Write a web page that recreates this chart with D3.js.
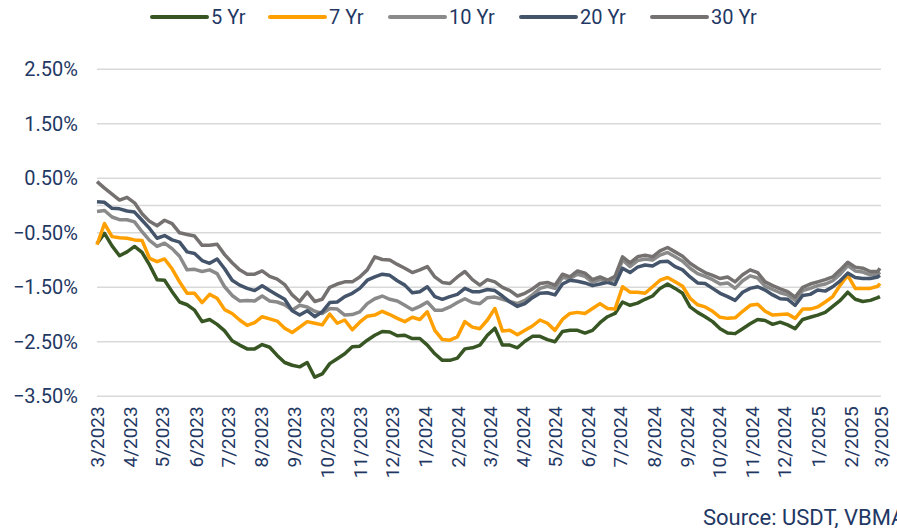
<!DOCTYPE html>
<html><head><meta charset="utf-8">
<script src="https://cdn.jsdelivr.net/npm/d3@7/dist/d3.min.js"></script>
<style>body{margin:0;background:#fff}svg{display:block}</style>
</head><body><svg id="c" width="897" height="528"></svg>
<script>
const dates = [
"2023-03-01","2023-03-08","2023-03-15","2023-03-22","2023-03-29","2023-04-05","2023-04-12","2023-04-19","2023-04-26",
"2023-05-03","2023-05-10","2023-05-17","2023-05-24","2023-05-31","2023-06-07","2023-06-14","2023-06-21","2023-06-28",
"2023-07-05","2023-07-12","2023-07-19","2023-07-26","2023-08-02","2023-08-09","2023-08-16","2023-08-23","2023-08-30",
"2023-09-06","2023-09-13","2023-09-20","2023-09-27","2023-10-04","2023-10-11","2023-10-18","2023-10-25",
"2023-11-01","2023-11-08","2023-11-15","2023-11-22","2023-11-29","2023-12-06","2023-12-13","2023-12-20","2023-12-27",
"2024-01-03","2024-01-10","2024-01-17","2024-01-24","2024-01-31","2024-02-07","2024-02-14","2024-02-21","2024-02-28",
"2024-03-06","2024-03-13","2024-03-20","2024-03-27","2024-04-03","2024-04-10","2024-04-17","2024-04-24",
"2024-05-01","2024-05-08","2024-05-15","2024-05-22","2024-05-29","2024-06-05","2024-06-12","2024-06-19","2024-06-26",
"2024-07-03","2024-07-10","2024-07-17","2024-07-24","2024-07-31","2024-08-07","2024-08-14","2024-08-21","2024-08-28",
"2024-09-04","2024-09-11","2024-09-18","2024-09-25","2024-10-02","2024-10-09","2024-10-16","2024-10-23","2024-10-30",
"2024-11-06","2024-11-13","2024-11-20","2024-11-27","2024-12-04","2024-12-11","2024-12-18","2024-12-25",
"2025-01-01","2025-01-08","2025-01-15","2025-01-22","2025-01-29","2025-02-05","2025-02-12","2025-02-19","2025-02-26","2025-02-28"];

const yr5 = [
-0.70,-0.51,-0.74,-0.92,-0.85,-0.75,-0.86,-1.09,-1.36,-1.37,-1.58,-1.77,-1.82,-1.92,-2.13,-2.09,-2.18,-2.30,-2.48,-2.56,-2.63,-2.63,-2.55,-2.60,-2.75,-2.88,-2.93,
-2.96,-2.88,-3.15,-3.09,-2.90,-2.81,-2.72,-2.59,-2.58,-2.47,-2.38,-2.31,-2.32,-2.39,-2.38,-2.44,-2.44,-2.56,-2.72,-2.84,-2.84,-2.80,-2.63,-2.61,-2.56,-2.38,-2.25,
-2.56,-2.56,-2.61,-2.49,-2.40,-2.40,-2.46,-2.50,-2.31,-2.29,-2.29,-2.34,-2.29,-2.15,-2.04,-1.98,-1.77,-1.83,-1.79,-1.72,-1.66,-1.52,-1.44,-1.52,-1.61,-1.86,
-1.96,-2.04,-2.13,-2.26,-2.34,-2.35,-2.26,-2.17,-2.09,-2.11,-2.18,-2.14,-2.19,-2.26,-2.09,-2.05,-2.01,-1.96,-1.85,-1.74,-1.59,-1.72,-1.76,-1.74,-1.69,-1.67];
const yr7 = [
-0.72,-0.33,-0.57,-0.59,-0.60,-0.63,-0.64,-0.97,-1.03,-0.98,-1.16,-1.40,-1.61,-1.61,-1.78,-1.63,-1.70,-1.91,-1.98,-2.10,-2.20,-2.15,-2.04,-2.08,-2.12,-2.25,-2.33,
-2.23,-2.13,-2.16,-2.19,-1.99,-2.16,-2.10,-2.28,-2.14,-2.03,-2.01,-1.94,-2.00,-2.07,-2.13,-2.05,-2.09,-1.95,-2.29,-2.46,-2.47,-2.41,-2.13,-2.23,-2.26,-2.10,-1.89,
-2.30,-2.29,-2.37,-2.29,-2.21,-2.10,-2.16,-2.29,-2.09,-1.98,-1.96,-1.98,-1.89,-1.80,-1.89,-1.90,-1.49,-1.59,-1.59,-1.61,-1.49,-1.37,-1.32,-1.40,-1.48,-1.70,
-1.82,-1.86,-1.94,-2.05,-2.07,-2.06,-1.94,-1.83,-1.81,-1.94,-2.01,-2.00,-1.99,-2.07,-1.90,-1.90,-1.86,-1.77,-1.67,-1.46,-1.28,-1.52,-1.52,-1.52,-1.48,-1.43];
const yr10 = [
-0.11,-0.09,-0.21,-0.26,-0.26,-0.30,-0.48,-0.64,-0.75,-0.69,-0.79,-0.93,-1.18,-1.17,-1.21,-1.18,-1.25,-1.49,-1.65,-1.75,-1.74,-1.75,-1.66,-1.75,-1.77,-1.82,-1.92,
-1.83,-1.86,-1.94,-1.98,-1.89,-1.90,-2.01,-2.00,-1.95,-1.80,-1.71,-1.66,-1.72,-1.75,-1.83,-1.91,-1.85,-1.77,-1.92,-1.92,-1.86,-1.78,-1.71,-1.78,-1.80,-1.69,-1.68,
-1.72,-1.76,-1.80,-1.74,-1.64,-1.52,-1.48,-1.52,-1.32,-1.34,-1.26,-1.30,-1.41,-1.36,-1.40,-1.36,-1.00,-1.12,-1.01,-0.98,-1.00,-0.91,-0.86,-0.94,-1.02,-1.15,
-1.25,-1.30,-1.36,-1.44,-1.42,-1.52,-1.38,-1.29,-1.33,-1.48,-1.54,-1.60,-1.64,-1.74,-1.56,-1.52,-1.47,-1.44,-1.38,-1.26,-1.10,-1.20,-1.22,-1.27,-1.26,-1.22];
const yr20 = [
0.07,0.06,-0.05,-0.06,-0.10,-0.12,-0.27,-0.42,-0.60,-0.55,-0.63,-0.67,-0.85,-0.88,-1.01,-1.06,-0.98,-1.16,-1.37,-1.46,-1.52,-1.56,-1.47,-1.56,-1.64,-1.72,-1.93,
-2.01,-1.93,-2.04,-1.95,-1.78,-1.77,-1.67,-1.61,-1.52,-1.37,-1.31,-1.26,-1.28,-1.38,-1.46,-1.60,-1.58,-1.49,-1.67,-1.72,-1.67,-1.63,-1.52,-1.58,-1.58,-1.54,-1.56,
-1.66,-1.77,-1.85,-1.80,-1.69,-1.61,-1.60,-1.64,-1.44,-1.37,-1.39,-1.42,-1.47,-1.44,-1.41,-1.45,-1.15,-1.23,-1.13,-1.09,-1.11,-1.03,-1.02,-1.12,-1.18,-1.31,
-1.42,-1.43,-1.52,-1.61,-1.67,-1.74,-1.59,-1.52,-1.49,-1.55,-1.64,-1.71,-1.72,-1.83,-1.65,-1.63,-1.55,-1.57,-1.49,-1.38,-1.24,-1.32,-1.34,-1.34,-1.31,-1.28];
const yr30 = [
0.44,0.32,0.21,0.10,0.15,0.05,-0.15,-0.29,-0.37,-0.27,-0.33,-0.50,-0.53,-0.56,-0.73,-0.73,-0.71,-0.90,-1.05,-1.18,-1.26,-1.26,-1.20,-1.30,-1.35,-1.45,-1.64,
-1.76,-1.59,-1.76,-1.72,-1.50,-1.44,-1.40,-1.40,-1.31,-1.18,-0.94,-0.99,-1.00,-1.08,-1.15,-1.23,-1.18,-1.12,-1.31,-1.41,-1.43,-1.31,-1.21,-1.36,-1.46,-1.36,-1.40,
-1.50,-1.56,-1.66,-1.61,-1.53,-1.43,-1.41,-1.46,-1.26,-1.31,-1.20,-1.24,-1.36,-1.31,-1.37,-1.30,-0.94,-1.05,-0.94,-0.91,-0.94,-0.83,-0.77,-0.85,-0.93,-1.06,
-1.15,-1.23,-1.28,-1.34,-1.31,-1.40,-1.27,-1.18,-1.23,-1.40,-1.47,-1.53,-1.58,-1.68,-1.50,-1.44,-1.40,-1.36,-1.31,-1.18,-1.04,-1.13,-1.15,-1.21,-1.21,-1.15];

const seriesNames = ["5 Yr","7 Yr","10 Yr","20 Yr","30 Yr"];
const seriesValues = [yr5, yr7, yr10, yr20, yr30];
const seriesColors = ["#375623","#ffa000","#8a8a8a","#44546a","#767171"];
const yTicks = [2.5, 1.5, 0.5, -0.5, -1.5, -2.5, -3.5];
const xTickLabels = ["3/2023","4/2023","5/2023","6/2023","7/2023","8/2023","9/2023","10/2023","11/2023","12/2023",
"1/2024","2/2024","3/2024","4/2024","5/2024","6/2024","7/2024","8/2024","9/2024","10/2024","11/2024","12/2024",
"1/2025","2/2025","3/2025"];
const sourceText = "Source: USDT, VBMA";

const svg = d3.select("#c");
const font = "Roboto, 'Liberation Sans', Arial, sans-serif";
const navy = "#1f3864";
const parse = d3.timeParse("%Y-%m-%d");
const parseTick = d3.timeParse("%m/%Y");
const tickDates = xTickLabels.map(parseTick);

const x = d3.scaleTime().domain([tickDates[0], tickDates[tickDates.length-1]]).range([97, 881]);
const y = d3.scaleLinear().domain([-3.5, 2.5]).range([396.3, 69.3]);

// gridlines (plus the horizontal axis line at zero)
svg.append("g").selectAll("line").data(yTicks.concat([0])).join("line")
  .attr("x1", 97).attr("x2", 881)
  .attr("y1", d => y(d)).attr("y2", d => y(d))
  .attr("stroke", "#d9d9d9").attr("stroke-width", 1.4);

// y axis labels
const yAxis = svg.append("g").attr("transform", "translate(97,0)")
  .call(d3.axisLeft(y).tickValues(yTicks).tickSize(0).tickPadding(19).tickFormat(d => d3.format(".2f")(d) + "%"));
yAxis.select(".domain").remove();
yAxis.selectAll("text").attr("font-family", font).attr("font-size", 20).attr("fill", navy);

// x axis labels
const xAxis = svg.append("g").attr("transform", "translate(0,396.3)")
  .call(d3.axisBottom(x).tickValues(tickDates).tickSize(0).tickFormat((d, i) => xTickLabels[i]));
xAxis.select(".domain").remove();
xAxis.selectAll("text")
  .attr("font-family", font).attr("font-size", 19).attr("fill", navy)
  .attr("y", 0).attr("dy", null)
  .attr("text-anchor", "end").attr("dominant-baseline", "central")
  .attr("transform", "translate(0,10) rotate(-90)");

// lines
const line = d3.line().x((d, i) => x(parse(dates[i]))).y(d => y(d));
svg.append("g").selectAll("path").data(seriesValues).join("path")
  .attr("d", d => line(d))
  .attr("fill", "none")
  .attr("stroke", (d, i) => seriesColors[i])
  .attr("stroke-width", 3.5)
  .attr("stroke-linejoin", "round");

// legend
const legendX = [152, 270, 390, 521, 652];
const lg = svg.append("g").attr("transform", "translate(0,17)");
const items = lg.selectAll("g").data(seriesNames).join("g")
  .attr("transform", (d, i) => `translate(${legendX[i]},0)`);
items.append("line").attr("x1", 0).attr("x2", 55).attr("y1", 0).attr("y2", 0)
  .attr("stroke", (d, i) => seriesColors[i]).attr("stroke-width", 4).attr("stroke-linecap", "round");
items.append("text").attr("x", 59).attr("y", 0).attr("dy", "0.35em")
  .attr("font-family", font).attr("font-size", 20).attr("fill", navy).text(d => d);

// source
svg.append("text").attr("x", 703).attr("y", 525)
  .attr("font-family", font).attr("font-size", 22).attr("fill", navy).text(sourceText);
</script>
</body></html>
